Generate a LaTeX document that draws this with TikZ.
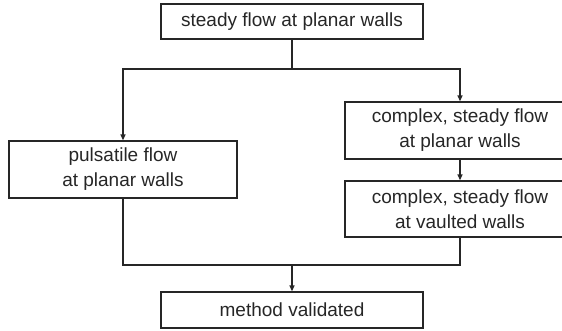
\documentclass[tikz,border=0pt]{standalone}
\usepackage{fontspec}
\setmainfont{Liberation Sans}
\usepackage{tikz}
\usetikzlibrary{arrows.meta}

\begin{document}
\begin{tikzpicture}[x=1pt,y=-1pt,
  box/.style={draw=black!85,line width=1.3pt,align=center,inner sep=0pt,
    font=\fontsize{19}{25}\selectfont,text=black!85},
  arr/.style={-{Triangle[length=6pt,width=5pt]}},
  line width=1.3pt,draw=black!85]
\clip (0,0) rectangle (562,330);
\node[box,minimum width=262pt,minimum height=35pt] (steady) at (292,21.5) {steady flow at planar walls};
\node[box,minimum width=228pt,minimum height=57pt] (pulsatile) at (123,169.5) {pulsatile flow\\at planar walls};
\node[box,minimum width=230pt,minimum height=57pt] (complexp) at (460,130.5) {complex, steady flow\\at planar walls};
\node[box,minimum width=230pt,minimum height=56pt] (complexv) at (460,209) {complex, steady flow\\at vaulted walls};
\node[box,minimum width=262pt,minimum height=36pt] (method) at (292,310) {method validated};
\coordinate (split) at (292,69);
\coordinate (merge) at (292,265);
\draw (steady) -- (split);
\draw[arr] (split) -| (pulsatile);
\draw[arr] (split) -| (complexp);
\draw[arr] (complexp) -- (complexv);
\draw (pulsatile) |- (merge);
\draw (complexv) |- (merge);
\draw[arr] (merge) -- (method);
\end{tikzpicture}
\end{document}
